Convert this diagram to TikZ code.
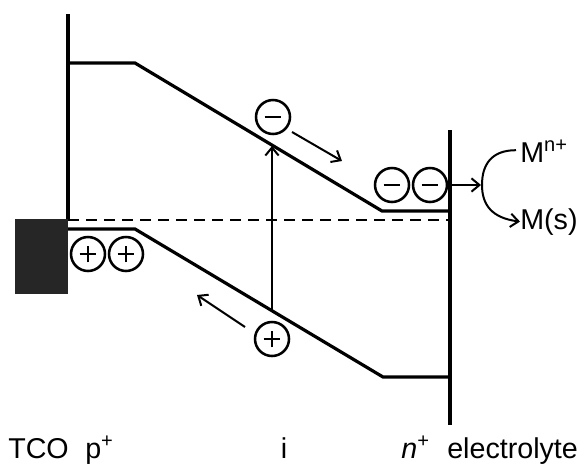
\documentclass[tikz,border=0pt]{standalone}
\usepackage{fontspec}
\setmainfont{Liberation Sans}
\usetikzlibrary{arrows.meta}
\tikzset{
  band/.style={line width=2.4pt, line join=miter},
  charge/.style={circle, draw, line width=1.9pt, minimum size=25.5pt, inner sep=0pt},
  holec/.style={charge, path picture={
     \draw[line width=2pt] ([xshift=-6.3pt]path picture bounding box.center) -- ([xshift=6.3pt]path picture bounding box.center);
     \draw[line width=2pt] ([yshift=-6.3pt]path picture bounding box.center) -- ([yshift=6.3pt]path picture bounding box.center);}},
  elecc/.style={charge, path picture={
     \draw[line width=2pt] ([xshift=-6.3pt]path picture bounding box.center) -- ([xshift=6.3pt]path picture bounding box.center);}},
  thinarrow/.style={line width=1.5pt, -{Straight Barb[length=6pt,width=10pt,line width=1.5pt]}},
  lbl/.style={font=\fontsize{21.5}{21.5}\selectfont, inner sep=0pt},
  mlbl/.style={font=\fontsize{21.5}{21.5}\selectfont, inner sep=0pt},
}
\begin{document}
\begin{tikzpicture}[x=0.75pt,y=-0.75pt]
\useasboundingbox (0,0) rectangle (578,464);
% TCO block
\fill[black!85] (15,219) rectangle (68,294);
% coordinates
\coordinate (ltop) at (68,14);
\coordinate (lbot) at (68,219);
\coordinate (rtop) at (450,130);
\coordinate (rbot) at (450,425);
\coordinate (cb0) at (68,63);
\coordinate (cb1) at (135,63);
\coordinate (cb2) at (382,211);
\coordinate (cb3) at (450,211);
\coordinate (vb0) at (68,229);
\coordinate (vb1) at (135,229);
\coordinate (vb2) at (383,377);
\coordinate (vb3) at (450,377);
\coordinate (ef0) at (68,220);
\coordinate (ef1) at (450,220);
% walls
\draw[band] (ltop) -- (lbot);
\draw[band] (rtop) -- (rbot);
% bands
\draw[band] (cb0) -- (cb1) -- (cb2) -- (cb3);
\draw[band] (vb0) -- (vb1) -- (vb2) -- (vb3);
\draw[line width=1.6pt, dash pattern=on 8pt off 5.5pt] (ef0) -- (ef1);
% charges
\node[holec] (h1) at (88,254) {};
\node[holec] (h2) at (126,254) {};
\node[holec] (h3) at (272,339) {};
\node[elecc] (e1) at (273,117) {};
\node[elecc] (e2) at (392,185) {};
\node[elecc] (e3) at (430,185) {};
% excitation
\coordinate (exb) at (272,311);
\coordinate (ext) at (272,146);
\draw[thinarrow] (exb) -- (ext);
% drift arrows
\coordinate (ea0) at (292,132);
\coordinate (ea1) at (342,161);
\draw[thinarrow] (ea0) -- (ea1);
\coordinate (ha0) at (245,327);
\coordinate (ha1) at (197,295);
\draw[thinarrow] (ha0) -- (ha1);
% transfer to electrolyte
\coordinate (tr0) at (450,185);
\coordinate (tr1) at (481,185);
\draw[thinarrow] (tr0) -- (tr1);
\node[mlbl, anchor=base west] (mn) at (520,162) {M\textsuperscript{n+}};
\node[mlbl, anchor=base west] (ms) at (520,229) {M(s)};
\coordinate (cm) at (482,185);
\draw[line width=1.5pt] (mn.west) ++(-4,-1) .. controls +(-25,0) and (482,165) .. (cm);
\draw[thinarrow] (cm) .. controls (482,205) and (492,218) .. (ms.west);
% bottom labels
\node[lbl, anchor=base west] (tco) at (8,458) {TCO};
\node[lbl, anchor=base west] (pp) at (85,458) {p\textsuperscript{+}};
\node[lbl, anchor=base] (ii) at (284,458) {i};
\node[lbl, anchor=base west] (nn) at (401,458) {\itshape n\textsuperscript{+}};
\node[lbl, anchor=base west] (el) at (447,458) {electrolyte};
\end{tikzpicture}
\end{document}
